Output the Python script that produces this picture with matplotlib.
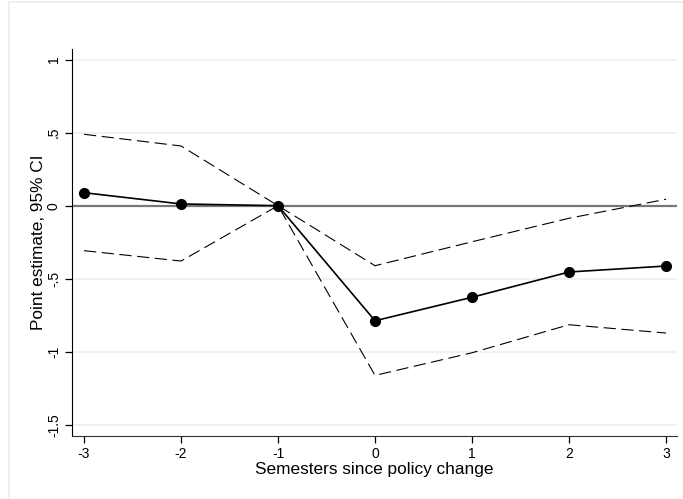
import matplotlib
matplotlib.use('Agg')
import matplotlib.pyplot as plt
from matplotlib.patches import Rectangle

plt.rcParams['font.family'] = ['Liberation Sans', 'DejaVu Sans']

semesters = [-3, -2, -1, 0, 1, 2, 3]
estimate = [0.089, 0.012, 0.0, -0.788, -0.627, -0.454, -0.413]
ci_upper = [0.489, 0.409, 0.0, -0.411, -0.247, -0.086, 0.044]
ci_lower = [-0.308, -0.379, 0.0, -1.162, -1.007, -0.815, -0.872]

yticks = [1, 0.5, 0, -0.5, -1, -1.5]
ytick_labels = ['1', '.5', '0', '-.5', '-1', '-1.5']

fig = plt.figure(figsize=(6.83, 4.99), dpi=100)
fig.patch.set_facecolor('white')
# light outer frame like stata graph region
fig.patches.append(Rectangle((9 / 683, -0.02), 1.0, 1.02 - 1.5 / 499,
                             transform=fig.transFigure, fill=False,
                             edgecolor='#e8eeee', linewidth=1.2))

ax = fig.add_axes([72 / 683, 1 - 436 / 499, 605 / 683, 387 / 499])

for y in yticks:
    ax.axhline(y, color='#eaf2f3', linewidth=1.3, zorder=0)
ax.axhline(0, color='#777777', linewidth=1.6, zorder=1)

ax.plot(semesters, ci_upper, color='black', linewidth=0.8, dashes=(11, 5), zorder=2)
ax.plot(semesters, ci_lower, color='black', linewidth=0.8, dashes=(11, 5), zorder=2)
ax.plot(semesters, estimate, color='black', linewidth=1.2, marker='o',
        markersize=7, zorder=3)

ax.set_xlim(-3.124, 3.113)
ax.set_ylim(-1.577, 1.073)
ax.set_xticks(semesters)
ax.set_xticklabels([str(s) for s in semesters], fontsize=10)
ax.set_yticks(yticks)
ax.set_yticklabels(ytick_labels, fontsize=10, rotation=90, va='center')

ax.spines['top'].set_visible(False)
ax.spines['right'].set_visible(False)
ax.spines['left'].set_color('black')
ax.spines['bottom'].set_color('#333333')
ax.tick_params(direction='out', length=5, width=0.9, pad=3)

ax.set_xlabel('Semesters since policy change', fontsize=12.4, labelpad=0.5)
ax.set_ylabel('Point estimate, 95% CI', fontsize=12.4, labelpad=0.5)

fig.savefig('out.png', dpi=100)
